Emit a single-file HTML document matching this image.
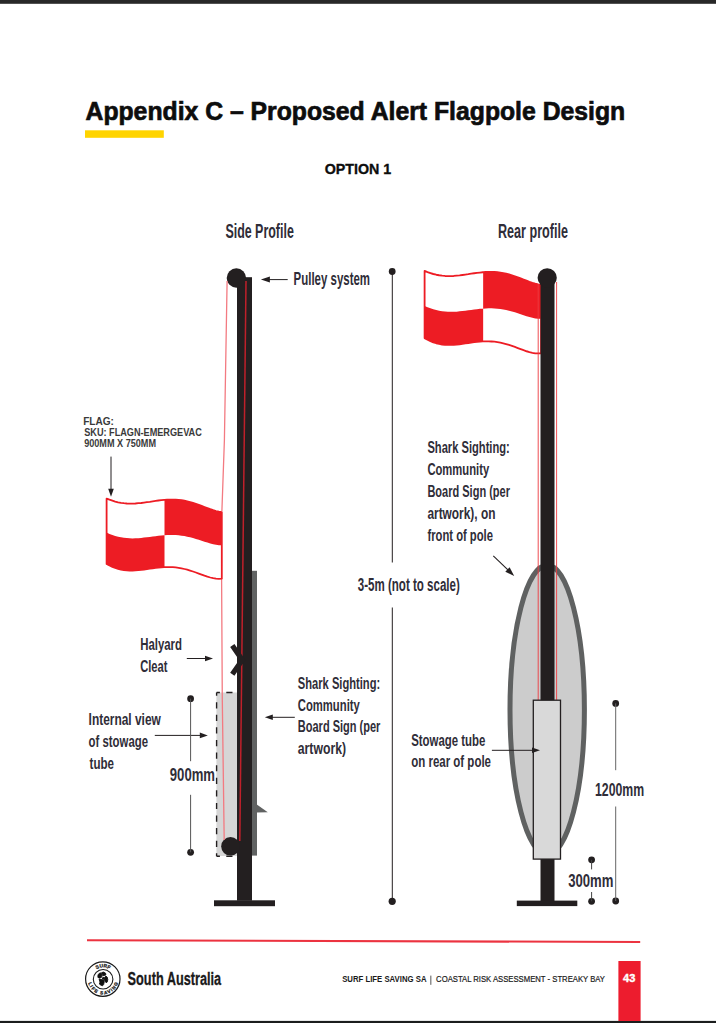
<!DOCTYPE html>
<html><head><meta charset="utf-8"><style>
html,body{margin:0;padding:0;background:#fff;}
body{width:716px;height:1023px;position:relative;overflow:hidden;font-family:"Liberation Sans",sans-serif;}
svg{position:absolute;left:0;top:0;}
</style></head><body>
<svg width="716" height="1023" viewBox="0 0 716 1023">
<rect x="0" y="0" width="716" height="3.8" fill="#282828"/>
<rect x="0" y="1020.9" width="716" height="3" fill="#1b1d1d"/>
<text x="85.5" y="120.2" textLength="539.7" lengthAdjust="spacingAndGlyphs" font-family="Liberation Sans" font-weight="bold" font-size="26" fill="#0d0d0d" stroke="#0d0d0d" stroke-width="0.7">Appendix C – Proposed Alert Flagpole Design</text>
<rect x="85" y="130.3" width="78.8" height="7.5" fill="#ffd400"/>
<text x="324.7" y="173.7" textLength="66.6" lengthAdjust="spacingAndGlyphs" font-family="Liberation Sans" font-weight="bold" font-size="15.2" fill="#0d0d0d" stroke="#0d0d0d" stroke-width="0.35">OPTION 1</text>
<rect x="252" y="570.8" width="5" height="284.8" fill="#606262"/>
<path d="M256.8,804.6 L267.8,812.2 L256.8,812.5 Z" fill="#606262"/>
<rect x="216.4" y="692.5" width="21" height="163.5" fill="#d6d6d6"/>
<path d="M216.6,692.5 V856.2" fill="none" stroke="#231f20" stroke-width="1.4" stroke-dasharray="6.2,6.39" stroke-dashoffset="2.9"/>
<path d="M216.6,692.5 H237" fill="none" stroke="#231f20" stroke-width="1.4" stroke-dasharray="6.2,6.39" stroke-dashoffset="2.9"/>
<path d="M216.6,856.2 H237" fill="none" stroke="#231f20" stroke-width="1.4" stroke-dasharray="6.2,6.39" stroke-dashoffset="2.9"/>
<rect x="237" y="277.2" width="15" height="623.5" fill="#231f20"/>
<rect x="214" y="900.3" width="61" height="5.9" fill="#231f20"/>
<circle cx="236.4" cy="278" r="9.7" fill="#231f20"/>
<circle cx="230.5" cy="846.3" r="9.3" fill="#231f20"/>
<line x1="246" y1="281" x2="239.8" y2="841" stroke="#c0202a" stroke-width="1.5"/>
<polyline points="227.1,281 224.4,440 221.9,511" fill="none" stroke="#f37a81" stroke-width="1.3"/>
<polyline points="221.6,578 222.3,700 224.2,840" fill="none" stroke="#f37a81" stroke-width="1.3"/>
<path d="M232.3,645.5 L242.3,660 L232.3,674.3" fill="none" stroke="#231f20" stroke-width="5.2"/>
<path d="M164.5,499.9 164.5,499.9 167.1,499.7 170,499.6 172.8,499.6 175.7,499.7 178.6,499.9 181.5,500.2 184.4,500.7 187.2,501.3 190.1,502 193,502.9 195.9,503.8 198.8,504.8 201.6,505.9 204.5,507 207.4,508.1 210.3,509.2 213.2,510.2 216,511 218.9,511.7 221.8,512.1 221.8,512.1 L221.8,545.2 221.8,545.2 218.9,545.2 216,544.8 213.2,544.2 210.3,543.5 207.4,542.6 204.5,541.7 201.6,540.8 198.8,539.8 195.9,538.9 193,538.1 190.1,537.3 187.2,536.7 184.4,536.1 181.5,535.7 178.6,535.3 175.7,535.1 172.8,535 170,535 167.1,535.1 164.5,535.3 164.5,535.3 Z" fill="#ed1c24"/><path d="M106.6,532.6 106.6,532.6 109.5,533.9 112.4,535 115.2,535.9 118.1,536.7 121,537.3 123.9,537.8 126.8,538.1 129.6,538.3 132.5,538.4 135.4,538.3 138.3,538.2 141.2,537.9 144,537.6 146.9,537.3 149.8,536.9 152.7,536.6 155.6,536.2 158.4,535.8 161.3,535.5 164.2,535.3 164.5,535.3 164.5,535.3 L164.5,567.1 164.5,567.1 164.2,567.1 161.3,567.3 158.4,567.6 155.6,567.9 152.7,568.3 149.8,568.7 146.9,569.1 144,569.5 141.2,569.9 138.3,570.2 135.4,570.4 132.5,570.5 129.6,570.5 126.8,570.4 123.9,570.1 121,569.6 118.1,568.9 115.2,568 112.4,566.9 109.5,565.5 106.6,563.9 106.6,563.9 Z" fill="#ed1c24"/><path d="M106.6,498.6 109.5,499.7 112.4,500.7 115.2,501.6 118.1,502.3 121,502.8 123.9,503.2 126.8,503.5 129.6,503.6 132.5,503.6 135.4,503.5 138.3,503.2 141.2,503 144,502.6 146.9,502.2 149.8,501.8 152.7,501.3 155.6,500.9 158.4,500.5 161.3,500.2 164.2,499.9 164.5,499.9 167.1,499.7 170,499.6 172.8,499.6 175.7,499.7 178.6,499.9 181.5,500.2 184.4,500.7 187.2,501.3 190.1,502 193,502.9 195.9,503.8 198.8,504.8 201.6,505.9 204.5,507 207.4,508.1 210.3,509.2 213.2,510.2 216,511 218.9,511.7 221.8,512.1 L221.8,578.6 218.9,578.8 216,578.7 213.2,578.2 210.3,577.5 207.4,576.7 204.5,575.7 201.6,574.6 198.8,573.6 195.9,572.5 193,571.5 190.1,570.6 187.2,569.7 184.4,569 181.5,568.3 178.6,567.8 175.7,567.4 172.8,567.2 170,567.1 167.1,567.1 164.5,567.1 164.2,567.1 161.3,567.3 158.4,567.6 155.6,567.9 152.7,568.3 149.8,568.7 146.9,569.1 144,569.5 141.2,569.9 138.3,570.2 135.4,570.4 132.5,570.5 129.6,570.5 126.8,570.4 123.9,570.1 121,569.6 118.1,568.9 115.2,568 112.4,566.9 109.5,565.5 106.6,563.9 Z" fill="none" stroke="#ed1c24" stroke-width="1.8" stroke-linejoin="round"/>
<line x1="111" y1="456.6" x2="111" y2="489.8" stroke="#231f20" stroke-width="1"/><path d="M111,496.8 L108.2,488.8 L113.8,488.8 Z" fill="#231f20"/>
<line x1="287.7" y1="279.6" x2="268.9" y2="279.6" stroke="#231f20" stroke-width="1"/><path d="M260.9,279.6 L269.9,276.6 L269.9,282.6 Z" fill="#231f20"/>
<line x1="186.8" y1="658.5" x2="206" y2="658.5" stroke="#231f20" stroke-width="1"/><path d="M213,658.5 L205,661.3 L205,655.7 Z" fill="#231f20"/>
<line x1="154.8" y1="735.4" x2="200.8" y2="735.4" stroke="#231f20" stroke-width="1"/><path d="M207.8,735.4 L199.8,738.2 L199.8,732.6 Z" fill="#231f20"/>
<line x1="294.8" y1="717.3" x2="271.8" y2="717.3" stroke="#231f20" stroke-width="1"/><path d="M264.8,717.3 L272.8,714.5 L272.8,720.1 Z" fill="#231f20"/>
<circle cx="190.6" cy="698.7" r="3.4" fill="#231f20"/><circle cx="190.6" cy="852.3" r="3.4" fill="#231f20"/>
<line x1="190.6" y1="698.7" x2="190.6" y2="761.2" stroke="#555" stroke-width="1"/>
<line x1="190.6" y1="794.8" x2="190.6" y2="852.3" stroke="#555" stroke-width="1"/>
<circle cx="392.2" cy="271.5" r="3.4" fill="#231f20"/><circle cx="392.2" cy="901.3" r="3.6" fill="#231f20"/>
<line x1="392.3" y1="271.5" x2="392.3" y2="562.5" stroke="#231f20" stroke-width="1"/>
<line x1="392.3" y1="607.5" x2="392.3" y2="901.3" stroke="#231f20" stroke-width="1"/>
<g transform="matrix(1.0112,0,0,1.0287,316.809,-241.999)"><path d="M164.5,499.9 164.5,499.9 167.1,499.7 170,499.6 172.8,499.6 175.7,499.7 178.6,499.9 181.5,500.2 184.4,500.7 187.2,501.3 190.1,502 193,502.9 195.9,503.8 198.8,504.8 201.6,505.9 204.5,507 207.4,508.1 210.3,509.2 213.2,510.2 216,511 218.9,511.7 221.8,512.1 221.8,512.1 L221.8,545.2 221.8,545.2 218.9,545.2 216,544.8 213.2,544.2 210.3,543.5 207.4,542.6 204.5,541.7 201.6,540.8 198.8,539.8 195.9,538.9 193,538.1 190.1,537.3 187.2,536.7 184.4,536.1 181.5,535.7 178.6,535.3 175.7,535.1 172.8,535 170,535 167.1,535.1 164.5,535.3 164.5,535.3 Z" fill="#ed1c24"/><path d="M106.6,532.6 106.6,532.6 109.5,533.9 112.4,535 115.2,535.9 118.1,536.7 121,537.3 123.9,537.8 126.8,538.1 129.6,538.3 132.5,538.4 135.4,538.3 138.3,538.2 141.2,537.9 144,537.6 146.9,537.3 149.8,536.9 152.7,536.6 155.6,536.2 158.4,535.8 161.3,535.5 164.2,535.3 164.5,535.3 164.5,535.3 L164.5,567.1 164.5,567.1 164.2,567.1 161.3,567.3 158.4,567.6 155.6,567.9 152.7,568.3 149.8,568.7 146.9,569.1 144,569.5 141.2,569.9 138.3,570.2 135.4,570.4 132.5,570.5 129.6,570.5 126.8,570.4 123.9,570.1 121,569.6 118.1,568.9 115.2,568 112.4,566.9 109.5,565.5 106.6,563.9 106.6,563.9 Z" fill="#ed1c24"/><path d="M106.6,498.6 109.5,499.7 112.4,500.7 115.2,501.6 118.1,502.3 121,502.8 123.9,503.2 126.8,503.5 129.6,503.6 132.5,503.6 135.4,503.5 138.3,503.2 141.2,503 144,502.6 146.9,502.2 149.8,501.8 152.7,501.3 155.6,500.9 158.4,500.5 161.3,500.2 164.2,499.9 164.5,499.9 167.1,499.7 170,499.6 172.8,499.6 175.7,499.7 178.6,499.9 181.5,500.2 184.4,500.7 187.2,501.3 190.1,502 193,502.9 195.9,503.8 198.8,504.8 201.6,505.9 204.5,507 207.4,508.1 210.3,509.2 213.2,510.2 216,511 218.9,511.7 221.8,512.1 L221.8,578.6 218.9,578.8 216,578.7 213.2,578.2 210.3,577.5 207.4,576.7 204.5,575.7 201.6,574.6 198.8,573.6 195.9,572.5 193,571.5 190.1,570.6 187.2,569.7 184.4,569 181.5,568.3 178.6,567.8 175.7,567.4 172.8,567.2 170,567.1 167.1,567.1 164.5,567.1 164.2,567.1 161.3,567.3 158.4,567.6 155.6,567.9 152.7,568.3 149.8,568.7 146.9,569.1 144,569.5 141.2,569.9 138.3,570.2 135.4,570.4 132.5,570.5 129.6,570.5 126.8,570.4 123.9,570.1 121,569.6 118.1,568.9 115.2,568 112.4,566.9 109.5,565.5 106.6,563.9 Z" fill="none" stroke="#ed1c24" stroke-width="1.8" stroke-linejoin="round"/></g>
<ellipse cx="547.2" cy="709.8" rx="37.2" ry="144.5" fill="#cccccc" stroke="#5f6161" stroke-width="5"/>
<rect x="540.5" y="277.2" width="14" height="624" fill="#231f20"/>
<circle cx="547.2" cy="277.8" r="9.6" fill="#231f20"/>
<line x1="538.2" y1="284" x2="538.2" y2="700" stroke="#ee3a40" stroke-width="0.9"/>
<line x1="556.6" y1="282" x2="556.6" y2="700" stroke="#ee3a40" stroke-width="0.9"/>
<rect x="533.3" y="700.2" width="27.2" height="158.9" fill="#d9d9d9" stroke="#231f20" stroke-width="1.3"/>
<rect x="516.8" y="900.6" width="60.5" height="5.5" fill="#231f20"/>
<line x1="493.3" y1="555.9" x2="508.2" y2="570.2" stroke="#231f20" stroke-width="1.1"/><path d="M514.2,576 L505.3,571.8 L509.6,567.3 Z" fill="#231f20"/>
<line x1="491.9" y1="750.3" x2="533" y2="750.3" stroke="#231f20" stroke-width="1"/><path d="M540,750.3 L532,753.1 L532,747.5 Z" fill="#231f20"/>
<circle cx="615.7" cy="703.4" r="3.4" fill="#231f20"/><circle cx="615.7" cy="901" r="3.4" fill="#231f20"/>
<line x1="615.7" y1="703.4" x2="615.7" y2="770.2" stroke="#666" stroke-width="1"/>
<line x1="615.7" y1="806.5" x2="615.7" y2="901" stroke="#666" stroke-width="1"/>
<circle cx="591.6" cy="859.8" r="3.4" fill="#231f20"/><circle cx="591.6" cy="901.3" r="3.4" fill="#231f20"/>
<line x1="591.6" y1="859.8" x2="591.6" y2="869.4" stroke="#444" stroke-width="1"/>
<line x1="591.6" y1="892" x2="591.6" y2="901.3" stroke="#444" stroke-width="1"/>
<text x="225.4" y="238" textLength="68.4" lengthAdjust="spacingAndGlyphs" font-size="19.5" font-weight="bold" fill="#2f2d38" font-family="Liberation Sans" >Side Profile</text>
<text x="498" y="238" textLength="70" lengthAdjust="spacingAndGlyphs" font-size="19.5" font-weight="bold" fill="#2f2d38" font-family="Liberation Sans" >Rear profile</text>
<text x="293.6" y="284.8" textLength="76.4" lengthAdjust="spacingAndGlyphs" font-size="17.8" font-weight="bold" fill="#2f2d38" font-family="Liberation Sans" >Pulley system</text>
<text x="357.8" y="590.5" textLength="102" lengthAdjust="spacingAndGlyphs" font-size="18" font-weight="bold" fill="#2f2d38" font-family="Liberation Sans" >3-5m (not to scale)</text>
<text x="427.4" y="453.3" textLength="82.4" lengthAdjust="spacingAndGlyphs" font-size="17.2" font-weight="bold" fill="#2f2d38" font-family="Liberation Sans" >Shark Sighting:</text>
<text x="427.4" y="475.2" textLength="61.8" lengthAdjust="spacingAndGlyphs" font-size="17.2" font-weight="bold" fill="#2f2d38" font-family="Liberation Sans" >Community</text>
<text x="427.4" y="497.2" textLength="82.6" lengthAdjust="spacingAndGlyphs" font-size="17.2" font-weight="bold" fill="#2f2d38" font-family="Liberation Sans" >Board Sign (per</text>
<text x="427.4" y="519.1" textLength="68" lengthAdjust="spacingAndGlyphs" font-size="17.2" font-weight="bold" fill="#2f2d38" font-family="Liberation Sans" >artwork), on</text>
<text x="427.4" y="541.1" textLength="65.6" lengthAdjust="spacingAndGlyphs" font-size="17.2" font-weight="bold" fill="#2f2d38" font-family="Liberation Sans" >front of pole</text>
<text x="297.8" y="688.9" textLength="82.4" lengthAdjust="spacingAndGlyphs" font-size="17.2" font-weight="bold" fill="#2f2d38" font-family="Liberation Sans" >Shark Sighting:</text>
<text x="297.8" y="710.5" textLength="62" lengthAdjust="spacingAndGlyphs" font-size="17.2" font-weight="bold" fill="#2f2d38" font-family="Liberation Sans" >Community</text>
<text x="297.8" y="732.1" textLength="82.6" lengthAdjust="spacingAndGlyphs" font-size="17.2" font-weight="bold" fill="#2f2d38" font-family="Liberation Sans" >Board Sign (per</text>
<text x="297.8" y="753.7" textLength="48.2" lengthAdjust="spacingAndGlyphs" font-size="17.2" font-weight="bold" fill="#2f2d38" font-family="Liberation Sans" >artwork)</text>
<text x="140.2" y="650.2" textLength="41.8" lengthAdjust="spacingAndGlyphs" font-size="17.2" font-weight="bold" fill="#2f2d38" font-family="Liberation Sans" >Halyard</text>
<text x="140.2" y="671.5" textLength="27.2" lengthAdjust="spacingAndGlyphs" font-size="17.2" font-weight="bold" fill="#2f2d38" font-family="Liberation Sans" >Cleat</text>
<text x="88.6" y="724.6" textLength="72.2" lengthAdjust="spacingAndGlyphs" font-size="17.2" font-weight="bold" fill="#2f2d38" font-family="Liberation Sans" >Internal view</text>
<text x="88.6" y="746.6" textLength="59.4" lengthAdjust="spacingAndGlyphs" font-size="17.2" font-weight="bold" fill="#2f2d38" font-family="Liberation Sans" >of stowage</text>
<text x="89.6" y="768.5" textLength="24.4" lengthAdjust="spacingAndGlyphs" font-size="17.2" font-weight="bold" fill="#2f2d38" font-family="Liberation Sans" >tube</text>
<text x="169.8" y="780.8" textLength="45.2" lengthAdjust="spacingAndGlyphs" font-size="18.2" font-weight="bold" fill="#2f2d38" font-family="Liberation Sans" >900mm</text>
<text x="411.2" y="745.8" textLength="74.2" lengthAdjust="spacingAndGlyphs" font-size="17.2" font-weight="bold" fill="#2f2d38" font-family="Liberation Sans" >Stowage tube</text>
<text x="411.2" y="767.3" textLength="79.8" lengthAdjust="spacingAndGlyphs" font-size="17.2" font-weight="bold" fill="#2f2d38" font-family="Liberation Sans" >on rear of pole</text>
<text x="595" y="796" textLength="49.2" lengthAdjust="spacingAndGlyphs" font-size="19" font-weight="bold" fill="#2f2d38" font-family="Liberation Sans" >1200mm</text>
<text x="568.2" y="887.4" textLength="45.2" lengthAdjust="spacingAndGlyphs" font-size="19" font-weight="bold" fill="#2f2d38" font-family="Liberation Sans" >300mm</text>
<text x="83.2" y="424.8" textLength="30.8" lengthAdjust="spacingAndGlyphs" font-size="10.3" font-weight="bold" fill="#3a3a3a" font-family="Liberation Sans" >FLAG:</text>
<text x="84.2" y="436.2" textLength="117.6" lengthAdjust="spacingAndGlyphs" font-size="10.3" font-weight="bold" fill="#3a3a3a" font-family="Liberation Sans" >SKU: FLAGN-EMERGEVAC</text>
<text x="84.2" y="446.6" textLength="71.8" lengthAdjust="spacingAndGlyphs" font-size="10.3" font-weight="bold" fill="#3a3a3a" font-family="Liberation Sans" >900MM X 750MM</text>
<line x1="87" y1="940.2" x2="640.2" y2="942" stroke="#ec3340" stroke-width="2.1"/>
<text x="127.6" y="985.4" textLength="93.6" lengthAdjust="spacingAndGlyphs" font-family="Liberation Sans" font-weight="bold" font-size="18" fill="#1a1a1a" stroke="#1a1a1a" stroke-width="0.3">South Australia</text>
<text x="342.2" y="982.2" textLength="84.3" lengthAdjust="spacingAndGlyphs" font-family="Liberation Sans" font-weight="bold" font-size="8.9" fill="#1a1a1a">SURF LIFE SAVING SA</text>
<rect x="430.4" y="975.6" width="0.9" height="9.2" fill="#444"/>
<text x="436.1" y="982.2" textLength="168.9" lengthAdjust="spacingAndGlyphs" font-family="Liberation Sans" font-size="8.9" fill="#1a1a1a" stroke="#1a1a1a" stroke-width="0.2">COASTAL RISK ASSESSMENT - STREAKY BAY</text>
<rect x="618.4" y="961" width="22.2" height="60" fill="#ed1c2e"/>
<text x="623.1" y="982.3" textLength="12.3" lengthAdjust="spacingAndGlyphs" font-family="Liberation Sans" font-weight="bold" font-size="10.6" fill="#ffffff" stroke="#ffffff" stroke-width="0.35">43</text>
<g id="logo">
<circle cx="102.8" cy="979.1" r="17.2" fill="none" stroke="#1a1a1a" stroke-width="1.2"/>
<circle cx="103.1" cy="979.25" r="9.8" fill="none" stroke="#1a1a1a" stroke-width="1.1"/>
<path id="arcTop" d="M91.4,979.2 A11.7,11.7 0 0 1 114.8,979.2" fill="none"/>
<path id="arcBot" d="M87.9,979.2 A15.2,15.2 0 0 0 118.3,979.2" fill="none"/>
<text font-family="Liberation Sans" font-weight="bold" font-size="5" fill="#222" stroke="#222" stroke-width="0.25"><textPath href="#arcTop" startOffset="50%" text-anchor="middle">SURF</textPath></text>
<text font-family="Liberation Sans" font-weight="bold" font-size="4.6" fill="#222" stroke="#222" stroke-width="0.3"><textPath href="#arcBot" startOffset="50%" text-anchor="middle" textLength="40" lengthAdjust="spacing">LIFE SAVING</textPath></text>
<path d="M97.9,977.4 L98,974.9 L99.4,973.2 L101.1,972.9 L101.9,976.3 L101.4,977.4 L99.7,978.2 Z M101.7,972.6 L103.6,972.1 L105.6,973.2 L105.8,975 L102.8,975.8 L102.2,974.6 Z M105.8,976 L107.2,977.1 L107.8,979.6 L107.2,982.1 L106.1,982.7 L104.7,980.7 L104.2,978.2 Z M102.2,977.9 L103.9,977.4 L104.2,979.1 L102.8,979.3 Z M99.1,979.3 L101.9,979.6 L103.9,980.2 L104.2,982.1 L103.6,984.6 L102.5,985.8 L100.5,984.9 L99.4,984.1 L100,982.1 Z" fill="#111" stroke="#111" stroke-width="0.9" stroke-linejoin="round"/>
</g>
</svg>
</body></html>
